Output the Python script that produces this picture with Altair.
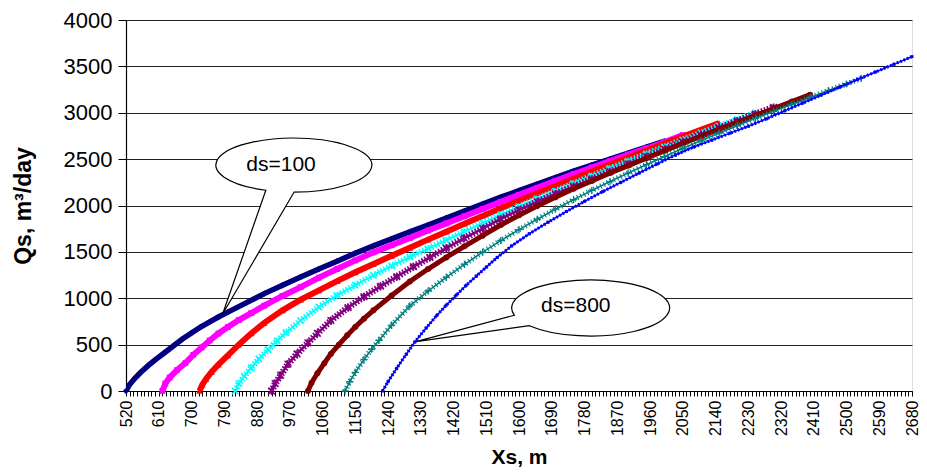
import altair as alt
import pandas as pd

# ---------------- data ----------------
x_tick_labels = [520, 610, 700, 790, 880, 970, 1060, 1150, 1240, 1330, 1420, 1510,
                 1600, 1690, 1780, 1870, 1960, 2050, 2140, 2230, 2320, 2410, 2500, 2590, 2680]
y_ticks = [0, 500, 1000, 1500, 2000, 2500, 3000, 3500, 4000]

ds100_x = [520, 530, 545, 560, 580, 600, 625, 650, 675, 700, 725, 750, 775, 800, 850, 900, 950,
           1000, 1050, 1100, 1150, 1200, 1250, 1300, 1350, 1400, 1450, 1500, 1550, 1600, 1650,
           1700, 1750, 1800, 1850, 1900, 1950, 2000]
ds100_q = [0, 70, 140, 200, 270, 335, 410, 485, 560, 625, 690, 745, 800, 850, 950, 1050, 1140,
           1230, 1315, 1400, 1485, 1565, 1640, 1715, 1790, 1865, 1940, 2015, 2090, 2160, 2230,
           2300, 2370, 2435, 2500, 2565, 2630, 2695]

ds200_x = [620, 628, 640, 660, 683, 705, 728, 750, 774, 800, 830, 864, 900, 950, 1000, 1050, 1100,
           1150, 1200, 1250, 1300, 1350, 1400, 1450, 1500, 1550, 1600, 1650, 1700, 1750, 1800,
           1850, 1900, 1950, 2000, 2050]
ds200_q = [0, 80, 145, 225, 300, 390, 470, 545, 620, 690, 765, 840, 920, 1025, 1120, 1222, 1315,
           1408, 1495, 1572, 1650, 1730, 1806, 1885, 1963, 2040, 2115, 2190, 2265, 2340, 2410,
           2480, 2550, 2615, 2685, 2760]

ds300_x = [722, 730, 740, 755, 774, 800, 830, 864, 900, 950, 1000, 1050, 1100, 1150, 1200, 1250,
           1300, 1350, 1400, 1450, 1500, 1550, 1600, 1650, 1700, 1750, 1800, 1850, 1900, 1950,
           2000, 2050, 2100, 2150]
ds300_q = [0, 70, 130, 205, 285, 385, 500, 620, 735, 870, 985, 1085, 1185, 1280, 1370, 1458,
           1545, 1632, 1718, 1804, 1888, 1970, 2052, 2132, 2210, 2288, 2365, 2442, 2518, 2593,
           2668, 2742, 2815, 2888]

ds400_x = [820, 830, 845, 864, 885, 910, 935, 960, 1000, 1050, 1100, 1150, 1200, 1250, 1300, 1350,
           1400, 1450, 1500, 1550, 1600, 1650, 1700, 1750, 1800, 1850, 1900, 1950, 2000, 2050,
           2100, 2150, 2200, 2250]
ds400_q = [0, 80, 160, 250, 345, 445, 540, 630, 760, 905, 1030, 1140, 1248, 1350, 1445, 1535,
           1625, 1718, 1810, 1900, 1988, 2072, 2155, 2237, 2318, 2398, 2478, 2556, 2632, 2707,
           2782, 2855, 2927, 2998]

ds500_x = [920, 930, 945, 965, 990, 1020, 1046, 1083, 1130, 1174, 1220, 1264, 1310, 1355, 1400,
           1450, 1500, 1550, 1600, 1650, 1700, 1750, 1800, 1850, 1900, 1950, 2000, 2050, 2100,
           2150, 2200, 2250, 2300]
ds500_q = [0, 80, 170, 290, 400, 520, 622, 760, 900, 1017, 1130, 1232, 1340, 1440, 1540, 1648,
           1750, 1855, 1950, 2040, 2125, 2205, 2285, 2365, 2445, 2525, 2605, 2685, 2762, 2838,
           2912, 2985, 3058]

ds600_x = [1020, 1030, 1046, 1065, 1083, 1105, 1128, 1150, 1174, 1200, 1250, 1300, 1350, 1400,
           1450, 1500, 1550, 1600, 1650, 1700, 1750, 1800, 1850, 1900, 1950, 2000, 2050, 2100,
           2150, 2200, 2250, 2300, 2350, 2400]
ds600_q = [0, 90, 191, 300, 400, 500, 600, 690, 780, 870, 1030, 1180, 1315, 1440, 1560, 1675,
           1790, 1895, 1995, 2090, 2180, 2265, 2350, 2430, 2510, 2590, 2668, 2745, 2820, 2895,
           2970, 3045, 3120, 3195]

ds700_x = [1122, 1135, 1150, 1174, 1195, 1215, 1250, 1300, 1350, 1400, 1450, 1500, 1550, 1600,
           1650, 1700, 1750, 1800, 1850, 1900, 1950, 2000, 2050, 2100, 2150, 2200, 2250, 2300,
           2350, 2400, 2450, 2500, 2540]
ds700_q = [0, 100, 200, 340, 450, 545, 710, 918, 1078, 1225, 1365, 1497, 1622, 1740, 1852, 1960,
           2063, 2162, 2258, 2350, 2440, 2528, 2615, 2700, 2780, 2860, 2940, 3015, 3090, 3165,
           3240, 3310, 3370]

ds800_x = [1225, 1240, 1264, 1290, 1314, 1345, 1374, 1400, 1428, 1455, 1483, 1510, 1540, 1580,
           1628, 1680, 1730, 1780, 1830, 1880, 1930, 1980, 2030, 2080, 2130, 2180, 2230, 2280,
           2330, 2380, 2430, 2480, 2530, 2580, 2630, 2680]
ds800_q = [0, 100, 245, 395, 530, 680, 815, 925, 1035, 1140, 1240, 1335, 1440, 1565, 1695, 1820,
           1935, 2045, 2150, 2250, 2350, 2448, 2545, 2630, 2705, 2780, 2855, 2935, 3020, 3105,
           3190, 3275, 3360, 3440, 3522, 3605]

callout_labels = ["ds=100", "ds=800"]
callout_x = [982, 1797]      # bubble centres, data units
callout_q = [2436, 895]
callout_text_x = [946, 1756]
callout_text_q = [2436, 916]

# ---------------- styles ----------------
XMARK = "M-1,-1L1,1M-1,1L1,-1"
STAR = "M-1,-1L1,1M-1,1L1,-1M0,-1.2L0,1.2"
PLUS = "M-1.2,0L1.2,0M0,-1.2L0,1.2"

# name, x, q, colour, marker, marker size, filled, line width, marker stroke, ladder (width, dash)
series = [
    ("ds=100", ds100_x, ds100_q, "#000080", "diamond", 40, True, 5.5, 1, None),
    ("ds=200", ds200_x, ds200_q, "#FF00FF", "square", 34, True, 6, 1, None),
    ("ds=300", ds300_x, ds300_q, "#FF0000", "triangle-up", 44, True, 6, 1, None),
    ("ds=400", ds400_x, ds400_q, "#00FFFF", XMARK, 40, False, 2, 1.6, (6.5, [1.5, 1.8])),
    ("ds=500", ds500_x, ds500_q, "#800080", STAR, 44, False, 2.5, 1.6, (7, [1.6, 1.6])),
    ("ds=600", ds600_x, ds600_q, "#800000", "circle", 36, True, 5, 1, None),
    ("ds=700", ds700_x, ds700_q, "#008080", PLUS, 36, False, 1.6, 1.3, (5.5, [1.1, 2.6])),
    ("ds=800", ds800_x, ds800_q, "#0000FF", "square", 9, True, 1.5, 1, (3.2, [1.8, 1.8])),
]

W, H = 786, 371
LEFT, TOP, RIGHT, BOTTOM = 118, 12, 7, 76

x_minor = list(range(x_tick_labels[0], x_tick_labels[-1] + 1, 10))
label_list = ",".join(str(v) for v in x_tick_labels)

x_scale = alt.Scale(domain=[x_tick_labels[0], x_tick_labels[-1]], nice=False, zero=False)
y_scale = alt.Scale(domain=[y_ticks[0], y_ticks[-1]], nice=False, zero=True)

x_axis = alt.Axis(
    values=x_minor, format="d",
    labelExpr=f"indexof([{label_list}], datum.value) >= 0 ? datum.label : ''",
    labelAngle=-90, labelAlign="right", labelBaseline="middle",
    labelFontSize=16, labelFont="Liberation Sans", labelColor="black",
    labelOverlap=False, labelFlush=False, labelPadding=4,
    tickSize=5, tickColor="black", tickWidth=1,
    domainColor="black", domainWidth=1.2, grid=False,
    title="Xs, m", titleFont="Liberation Sans", titleFontSize=21, titleFontWeight="bold",
    titleColor="black", titleY=66, titleBaseline="middle",
)
y_axis = alt.Axis(
    values=y_ticks, format="d",
    labelFontSize=22, labelFont="Liberation Sans", labelColor="black", labelPadding=6,
    tickSize=8, tickColor="black", tickWidth=1,
    domainColor="black", domainWidth=1.2,
    grid=True, gridColor="#222", gridWidth=1,
    title="Qs, m³/day", titleFont="Liberation Sans", titleFontSize=23, titleFontWeight="bold",
    titleColor="black", titleX=-103, titleY=H / 2, titleAlign="center", titleBaseline="middle",
    titleAngle=-90,
)


def xenc():
    return alt.X("X:Q", scale=x_scale, axis=x_axis)


def yenc():
    return alt.Y("Q:Q", scale=y_scale, axis=y_axis)


layers = []
for name, xs, qs, color, shape, size, filled, lw, sw, ladder in series:
    df = pd.DataFrame({"X": xs, "Q": qs})
    base = alt.Chart(df)
    layers.append(base.mark_line(color=color, strokeWidth=lw, clip=True).encode(x=xenc(), y=yenc()))
    if ladder is not None:
        layers.append(
            base.mark_line(color=color, strokeWidth=ladder[0], strokeDash=ladder[1],
                           strokeCap="butt", clip=True).encode(x=xenc(), y=yenc())
        )
    if filled:
        pts = base.mark_point(shape=shape, filled=True, color=color, size=size, opacity=1)
    else:
        pts = base.mark_point(shape=shape, filled=False, color=color, size=size,
                              strokeWidth=sw, opacity=1)
    layers.append(pts.encode(x=xenc(), y=yenc()))

# callout bubbles (ellipse + pointer), positioned in data units
bubble_paths = [
    "M-0.283,0.252L-0.715,1.49L0,0.27A0.78,0.27 0 1 0 -0.283,0.252Z",
    "M-0.763,0.073L-1.747,0.337L-0.613,0.177A0.79,0.28 0 1 0 -0.763,0.073Z",
]
for i in range(2):
    bdf = pd.DataFrame({"X": [callout_x[i]], "Q": [callout_q[i]]})
    layers.append(
        alt.Chart(bdf).mark_point(shape=bubble_paths[i], filled=True, fill="white",
                                  stroke="black", strokeWidth=1.2, size=40000, opacity=1)
        .encode(x=xenc(), y=yenc())
    )

tdf = pd.DataFrame({"X": callout_text_x, "Q": callout_text_q, "label": callout_labels})
layers.append(
    alt.Chart(tdf).mark_text(font="Liberation Sans", fontSize=21, color="black",
                             align="center", baseline="middle")
    .encode(x=xenc(), y=yenc(), text="label:N")
)

chart = (
    alt.layer(*layers)
    .properties(width=W, height=H,
                autosize=alt.AutoSizeParams(type="none"),
                padding={"left": LEFT, "top": TOP, "right": RIGHT, "bottom": BOTTOM})
    .configure_view(stroke="black", strokeWidth=1.2)
    .configure(background="white")
)

chart.save("out.html", embed_options={"renderer": "svg", "actions": False})
